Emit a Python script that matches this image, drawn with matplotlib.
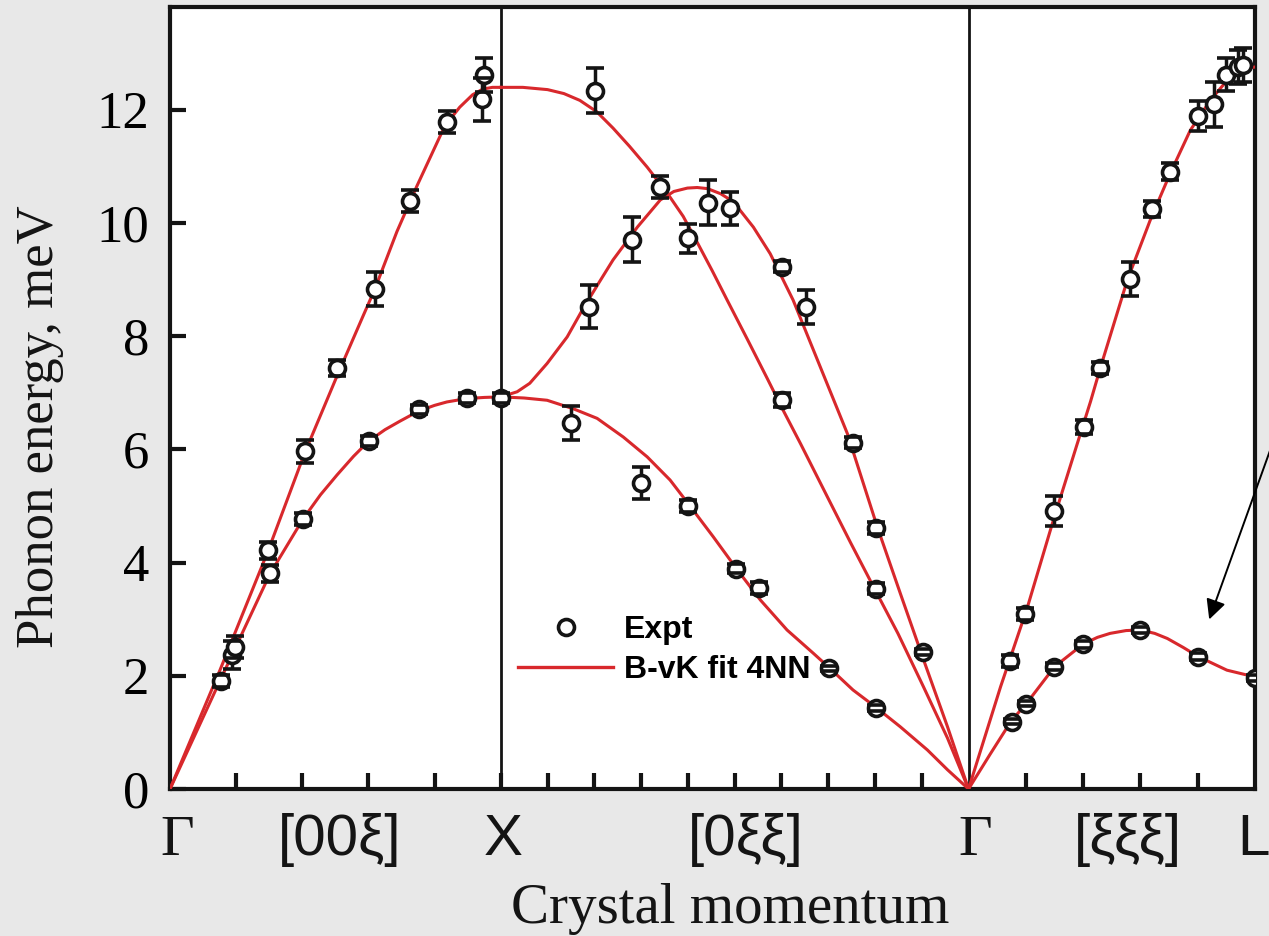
import numpy as np
import matplotlib
matplotlib.use('Agg')
import matplotlib.pyplot as plt
from matplotlib.lines import Line2D

# reduced wave-vector xi along each direction, energies in meV
# [00xi]  Gamma -> X
gx_xi = [0.154, 0.186, 0.196, 0.296, 0.302, 0.402, 0.408, 0.505, 0.601, 0.619, 0.725, 0.752, 0.837, 0.897, 0.943, 0.949, 1.0]
gx_E = [1.91, 2.37, 2.51, 4.22, 3.81, 4.77, 5.97, 7.44, 6.15, 8.83, 10.39, 6.71, 11.79, 6.91, 12.19, 12.61, 6.91]
gx_err = [0.1, 0.25, 0.2, 0.15, 0.15, 0.1, 0.2, 0.15, 0.08, 0.3, 0.2, 0.08, 0.2, 0.08, 0.38, 0.3, 0.08]

# [0xixi]  X (xi=1) -> Gamma (xi=0)
xg_xi = [0.850, 0.811, 0.798, 0.719, 0.700, 0.659, 0.599, 0.599, 0.558, 0.509, 0.498, 0.449, 0.398, 0.398,
         0.348, 0.299, 0.248, 0.198, 0.198, 0.198, 0.098]
xg_E = [6.46, 8.52, 12.34, 9.71, 5.41, 10.64, 9.73, 5.00, 10.36, 10.26, 3.89, 3.55, 9.23, 6.87,
        8.52, 2.13, 6.12, 4.61, 3.54, 1.43, 2.42]
xg_err = [0.3, 0.38, 0.4, 0.4, 0.28, 0.2, 0.26, 0.1, 0.4, 0.29, 0.08, 0.1, 0.1, 0.12,
          0.3, 0.05, 0.1, 0.1, 0.1, 0.05, 0.05]

# [xixixi]  Gamma -> L
gl_xi = [0.073, 0.099, 0.150, 0.202, 0.230, 0.281, 0.321, 0.351, 0.400, 0.429, 0.450, 0.470, 0.479,
         0.075, 0.101, 0.150, 0.200, 0.300, 0.401, 0.5]
gl_E = [2.26, 3.09, 4.91, 6.40, 7.44, 9.02, 10.25, 10.91, 11.89, 12.10, 12.62, 12.76, 12.80,
        1.19, 1.51, 2.16, 2.56, 2.81, 2.34, 1.96]
gl_err = [0.1, 0.1, 0.27, 0.12, 0.1, 0.3, 0.15, 0.15, 0.27, 0.4, 0.29, 0.3, 0.3,
          0.05, 0.05, 0.06, 0.06, 0.06, 0.06, 0.05]

# Born-von Karman 4NN fit
fit_gx_LA_xi = [0, 0.151, 0.296, 0.408, 0.505, 0.583, 0.619, 0.686, 0.746, 0.831, 0.876, 0.915, 0.946, 0.975, 1.0]
fit_gx_LA_E = [0, 2.1, 4.2, 5.95, 7.3, 8.35, 8.83, 9.85, 10.65, 11.72, 12.05, 12.27, 12.37, 12.40, 12.40]
fit_gx_TA_xi = [0, 0.154, 0.302, 0.402, 0.455, 0.505, 0.555, 0.601, 0.650, 0.695, 0.752, 0.800, 0.837, 0.897, 0.95, 1.0]
fit_gx_TA_E = [0, 1.95, 3.8, 4.77, 5.2, 5.55, 5.88, 6.15, 6.35, 6.5, 6.68, 6.78, 6.84, 6.9, 6.92, 6.93]

fit_xg_1_xi = [1.0, 0.953, 0.90, 0.865, 0.831, 0.795, 0.760, 0.725, 0.687, 0.644, 0.610, 0.580, 0.548, 0.516,
               0.473, 0.430, 0.398, 0.359, 0.301, 0.252, 0.203, 0.151, 0.096, 0.045, 0]
fit_xg_1_E = [12.40, 12.40, 12.36, 12.29, 12.17, 11.97, 11.68, 11.36, 10.99, 10.53, 10.12, 9.66, 9.16, 8.64,
              7.95, 7.25, 6.72, 6.1, 5.15, 4.35, 3.57, 2.75, 1.8, 0.9, 0]
fit_xg_2_xi = [1.0, 0.965, 0.938, 0.901, 0.858, 0.824, 0.790, 0.760, 0.708, 0.659, 0.630, 0.601, 0.580, 0.558,
               0.530, 0.503, 0.460, 0.424, 0.375, 0.317, 0.259, 0.195, 0.146, 0.096, 0.045, 0]
fit_xg_2_E = [6.93, 7.02, 7.17, 7.52, 7.99, 8.49, 8.95, 9.35, 9.93, 10.41, 10.56, 10.62, 10.63, 10.61,
              10.52, 10.38, 9.93, 9.46, 8.64, 7.46, 6.28, 4.63, 3.46, 2.28, 1.10, 0]
fit_xg_3_xi = [1.0, 0.950, 0.901, 0.845, 0.794, 0.738, 0.687, 0.638, 0.599, 0.546, 0.494, 0.445, 0.388,
               0.332, 0.300, 0.247, 0.199, 0.146, 0.088, 0.045, 0]
fit_xg_3_E = [6.93, 6.91, 6.87, 6.72, 6.55, 6.22, 5.87, 5.46, 5.04, 4.46, 3.87, 3.34, 2.81,
              2.40, 2.16, 1.75, 1.45, 1.10, 0.69, 0.34, 0]

fit_gl_LA_xi = [0, 0.056, 0.103, 0.148, 0.190, 0.213, 0.230, 0.277, 0.317, 0.352, 0.387, 0.422, 0.456, 0.479, 0.5]
fit_gl_LA_E = [0, 1.81, 3.22, 4.75, 6.11, 6.85, 7.44, 8.99, 10.05, 10.88, 11.64, 12.17, 12.58, 12.73, 12.76]
fit_gl_TA_xi = [0, 0.038, 0.075, 0.101, 0.150, 0.200, 0.225, 0.247, 0.275, 0.300, 0.325, 0.347, 0.375, 0.401, 0.451, 0.5]
fit_gl_TA_E = [0, 0.62, 1.21, 1.51, 2.16, 2.56, 2.68, 2.75, 2.80, 2.81, 2.75, 2.66, 2.50, 2.34, 2.10, 1.98]

sym_labels = ['Γ', '[00ξ]', 'X', '[0ξξ]', 'Γ', '[ξξξ]', 'L']
sym_px = [177, 340, 503, 746, 975, 1128, 1253]

s2 = np.sqrt(2)
s3 = np.sqrt(3)
x_X = 1.0
x_G2 = 1 + s2
x_L = 1 + s2 + s3 / 2


def pos(seg, xi):
	xi = np.asarray(xi, dtype=float)
	if seg == 'GX':
		return xi
	elif seg == 'XG':
		return 1 + (1 - xi) * s2
	return x_G2 + xi * s3


red = '#d8282c'
blk = '#141414'

plt.rcParams['font.family'] = ['Liberation Serif', 'DejaVu Serif']
fig = plt.figure(figsize=(12.69, 9.36), dpi=100, facecolor='#e8e8e8')
ax = fig.add_axes([170 / 1269, 1 - 789 / 936, (1255 - 170) / 1269, (789 - 7) / 936])
ax.set_facecolor('white')

for seg, xi, E in [('GX', fit_gx_LA_xi, fit_gx_LA_E), ('GX', fit_gx_TA_xi, fit_gx_TA_E),
				   ('XG', fit_xg_1_xi, fit_xg_1_E), ('XG', fit_xg_2_xi, fit_xg_2_E),
				   ('XG', fit_xg_3_xi, fit_xg_3_E),
				   ('GL', fit_gl_LA_xi, fit_gl_LA_E), ('GL', fit_gl_TA_xi, fit_gl_TA_E)]:
	ax.plot(pos(seg, xi), E, color=red, lw=2.2, zorder=3, solid_joinstyle='round')

for seg, xi, E, err in [('GX', gx_xi, gx_E, gx_err), ('XG', xg_xi, xg_E, xg_err), ('GL', gl_xi, gl_E, gl_err)]:
	eb = ax.errorbar(pos(seg, xi), E, yerr=err, fmt='o', ms=11.5, mfc='white', mec=blk, mew=2.6,
					 ecolor=blk, elinewidth=2.5, capsize=6.8, capthick=3.0)
	eb[0].set_zorder(4)
	for c in eb[1]:
		c.set_zorder(5)
	for b in eb[2]:
		b.set_zorder(3)

ax.axvline(x_X, color=blk, lw=2.0, zorder=2)
ax.axvline(x_G2, color=blk, lw=2.0, zorder=2)

ax.set_xlim(0, x_L)
ax.set_ylim(0, 13.82)

xt = list(pos('GX', [0.2, 0.4, 0.6, 0.8, 1.0])) + list(pos('XG', np.arange(0.9, 0.05, -0.1))) \
	 + list(pos('GL', [0.1, 0.2, 0.3, 0.4]))
ax.set_xticks(xt)
ax.set_xticklabels([])
ax.set_yticks(range(0, 13, 2))
ax.tick_params(axis='both', direction='in', length=11.5, width=3.0, color=blk)
ax.tick_params(axis='y', labelsize=38, pad=15)
for sp in ax.spines.values():
	sp.set_linewidth(3.0)
	sp.set_color(blk)

for lab, px in zip(sym_labels, sym_px):
	fam = ['Liberation Serif'] if lab == 'Γ' else ['Liberation Sans', 'DejaVu Sans']
	fig.text(px / 1269, 1 - 855 / 936, lab, ha='center', va='baseline', fontsize=42, family=fam, color=blk)

fig.text(730 / 1269, 1 - 923 / 936, 'Crystal momentum', ha='center', va='baseline', fontsize=41, color=blk)
fig.text(40 / 1269, 1 - 427 / 936, 'Phonon energy, meV', ha='center', va='center', rotation=90,
		 fontsize=38, color=blk)

handles = [Line2D([], [], ls='none', marker='o', ms=11.5, mfc='white', mec=blk, mew=2.6),
		   Line2D([], [], color=red, lw=2.4)]
ax.legend(handles, ['Expt', 'B-vK fit 4NN'], loc='upper left', bbox_to_anchor=(0.3207, 0.222),
		  frameon=False, borderpad=0, borderaxespad=0, handlelength=2.98, handletextpad=0.35,
		  labelspacing=0.3, prop={'family': 'Liberation Sans', 'weight': 'bold', 'size': 23})

# arrow coming in from the cut-off annotation on the right
ax.annotate('', xy=(3.139, 2.95), xytext=(3.384, 6.93),
			arrowprops=dict(arrowstyle='-|>', color='k', lw=1.4, mutation_scale=30),
			annotation_clip=False)

fig.savefig('out.png', dpi=100, facecolor=fig.get_facecolor())
